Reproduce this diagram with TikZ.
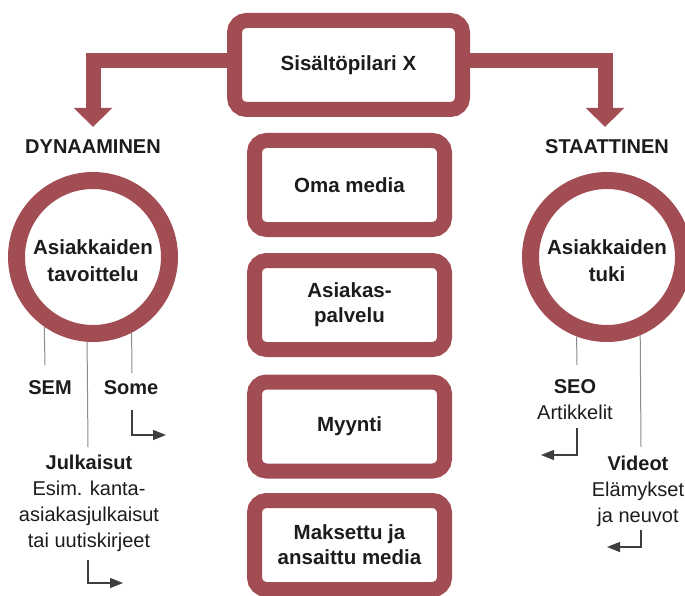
\documentclass[tikz,border=0pt]{standalone}
\usepackage{fontspec}
\setmainfont{Liberation Sans}
\usetikzlibrary{arrows.meta}
\definecolor{pillar}{HTML}{A24C54}
\definecolor{ink}{HTML}{1C1C1C}
\definecolor{thinline}{HTML}{8C8C8C}
\begin{document}
\begin{tikzpicture}[x=1pt,y=1pt,
  box/.style={draw=pillar, line width=15pt, rounded corners=12pt,
    minimum width=190pt, minimum height=89pt, inner sep=0pt, align=center,
    text=ink, font=\bfseries\fontsize{20.5}{25}\selectfont},
  ring/.style={draw=pillar, line width=17pt, circle, minimum size=153pt, inner sep=0pt},
  ringtext/.style={align=center, text=ink, inner sep=0pt, font=\bfseries\fontsize{20.5}{27}\selectfont},
  bigarrow/.style={draw=pillar, line width=15pt, -{Triangle[length=19pt,width=37pt]}},
  headlbl/.style={text=ink, inner sep=0pt, font=\bfseries\fontsize{20}{24}\selectfont},
  lblb/.style={text=ink, inner sep=0pt, font=\bfseries\fontsize{20}{25}\selectfont},
  lbl/.style={text=ink, align=center, inner sep=0pt, font=\fontsize{20}{26}\selectfont},
  stem/.style={draw=thinline, line width=1pt},
  hook/.style={draw=ink!85, line width=1.1pt, -{Triangle[length=13pt,width=10pt]}}
]
\useasboundingbox (0,0) rectangle (685,-596);

% coordinates for free ends
\coordinate (ldyn) at (93,-127);
\coordinate (rsta) at (605,-127);
\coordinate (semEnd) at (45,-365);
\coordinate (someEnd) at (132,-373);
\coordinate (julkEnd) at (88,-447);
\coordinate (seoEnd) at (577,-365);
\coordinate (vidEnd) at (641,-447);
\coordinate (sa1) at (132,-410);
\coordinate (sa2) at (166,-435);
\coordinate (ja1) at (88,-560);
\coordinate (ja2) at (123,-583);
\coordinate (sb1) at (577,-428);
\coordinate (sb2) at (541,-455);
\coordinate (vb1) at (641,-530);
\coordinate (vb2) at (607,-547);

% top box
\node[box, minimum width=228pt, minimum height=89pt] (px) at (348.5,-65) {Sisältöpilari X};

% big arrows
\draw[bigarrow] ([yshift=4.5pt]px.west) -| (ldyn);
\draw[bigarrow] ([yshift=4.5pt]px.east) -| (rsta);

% middle boxes
\node[box] (om) at (349.5,-185) {Oma media};
\node[box] (ap) at (349.5,-305) {Asiakas-\\palvelu};
\node[box] (my) at (349.5,-426.5) {Myynti};
\node[box] (mk) at (349.5,-545) {Maksettu ja\\ansaittu media};

% headings
\node[headlbl] (dyn) at (93,-147) {DYNAAMINEN};
\node[headlbl] (sta) at (607,-147) {STAATTINEN};

% circles
\node[ring] (lc) at (93,-257) {};
\node[ring] (rc) at (607,-257) {};
\node[ringtext] (lct) at (93,-261) {Asiakkaiden\\tavoittelu};
\node[ringtext] (rct) at (607,-261) {Asiakkaiden\\tuki};

% stems
\draw[stem] (lc.235.6) -- (semEnd);
\draw[stem] (lc.297.3) -- (someEnd);
\draw[stem] (lc.266.6) -- (julkEnd);
\draw[stem] (rc.249.3) -- (seoEnd);
\draw[stem] (rc.293.6) -- (vidEnd);

% labels
\node[lblb] (sem) at (50,-388) {SEM};
\node[lblb] (some) at (131,-388) {Some};
\node[lbl] (julk) at (89,-503) {\textbf{Julkaisut}\\Esim. kanta-\\asiakasjulkaisut\\tai uutiskirjeet};
\node[lbl] (seo) at (575,-400) {\textbf{SEO}\\Artikkelit};
\node[lbl] (vid) at (638,-491) {\textbf{Videot}\\Elämykset\\ja neuvot};

% small arrows
\draw[hook] (sa1) |- (sa2);
\draw[hook] (ja1) |- (ja2);
\draw[hook] (sb1) |- (sb2);
\draw[hook] (vb1) |- (vb2);
\end{tikzpicture}
\end{document}
